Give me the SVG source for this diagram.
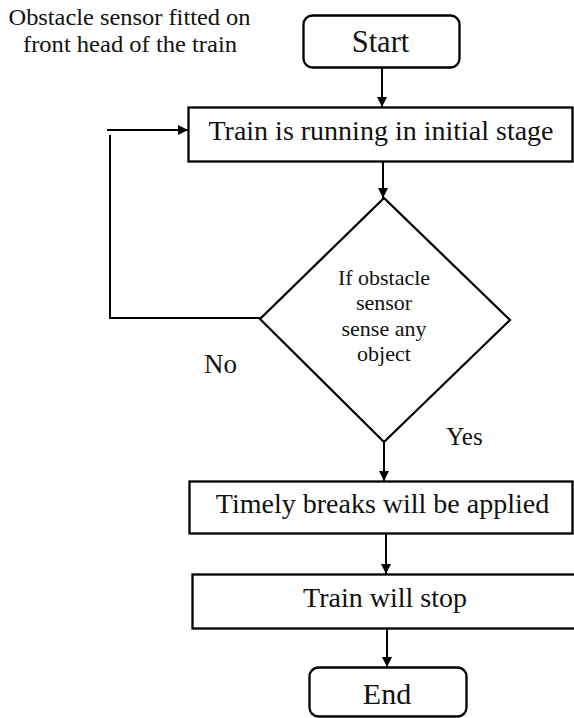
<svg xmlns="http://www.w3.org/2000/svg" width="574" height="718" viewBox="0 0 574 718">
  <style>
    .box { fill: #ffffff; stroke: #000000; stroke-width: 2.3; }
    .conn { fill: none; stroke: #000000; stroke-width: 2; }
    .t { font-family: "Liberation Serif", "Times New Roman", serif; fill: #111111; text-anchor: middle; }
    .b { font-size: 28px; }
    .d { font-size: 22px; }
  </style>
  <defs>
    <marker id="arr" markerUnits="userSpaceOnUse" markerWidth="10" markerHeight="10" refX="10" refY="5" orient="auto">
      <path d="M0,0 L10,5 L0,10 z" fill="#000000"/>
    </marker>
  </defs>
  <rect width="574" height="718" fill="#ffffff"/>

  <g id="note">
    <text class="t" x="129.5" y="24.5" font-size="23" textLength="242" lengthAdjust="spacingAndGlyphs">Obstacle sensor fitted on</text>
    <text class="t" x="130" y="51.5" font-size="23" textLength="214" lengthAdjust="spacingAndGlyphs">front head of the train</text>
  </g>

  <g id="connectors">
    <line class="conn" x1="382" y1="67" x2="382" y2="107" marker-end="url(#arr)"/>
    <line class="conn" x1="383" y1="162" x2="383" y2="198" marker-end="url(#arr)"/>
    <line class="conn" x1="384" y1="442" x2="384" y2="481" marker-end="url(#arr)"/>
    <line class="conn" x1="386" y1="534" x2="386" y2="574" marker-end="url(#arr)"/>
    <line class="conn" x1="387" y1="628.5" x2="387" y2="667" marker-end="url(#arr)"/>
    <path class="conn" d="M260,318 H110 V135"/>
    <path class="conn" d="M107,130 H188" marker-end="url(#arr)"/>
  </g>

  <g id="start">
    <rect class="box" x="303.5" y="15.5" width="156" height="52" rx="9"/>
    <text class="t" x="380.5" y="51.5" font-size="30.5">Start</text>
  </g>

  <g id="running">
    <rect class="box" x="188.5" y="107.5" width="384" height="54"/>
    <text class="t b" x="381" y="139.5">Train is running in initial stage</text>
  </g>

  <g id="decision">
    <polygon class="box" points="384,198 510,320 384,442 260,319"/>
    <text class="t d" x="384" y="285">If obstacle</text>
    <text class="t d" x="384" y="310">sensor</text>
    <text class="t d" x="384" y="336">sense any</text>
    <text class="t d" x="384" y="361">object</text>
  </g>

  <g id="label-no">
    <text class="t" x="220.5" y="373" font-size="27">No</text>
  </g>
  <g id="label-yes">
    <text class="t" x="464.5" y="445" font-size="25">Yes</text>
  </g>

  <g id="brakes">
    <rect class="box" x="189.5" y="481.5" width="383" height="52"/>
    <text class="t b" x="382.5" y="512.5">Timely breaks will be applied</text>
  </g>

  <g id="stop">
    <rect class="box" x="192.5" y="574.5" width="385" height="54"/>
    <text class="t b" x="385" y="606.5">Train will stop</text>
  </g>

  <g id="end">
    <rect class="box" x="309.5" y="667.5" width="157" height="49" rx="9"/>
    <text class="t" x="387" y="704" font-size="30">End</text>
  </g>
</svg>
